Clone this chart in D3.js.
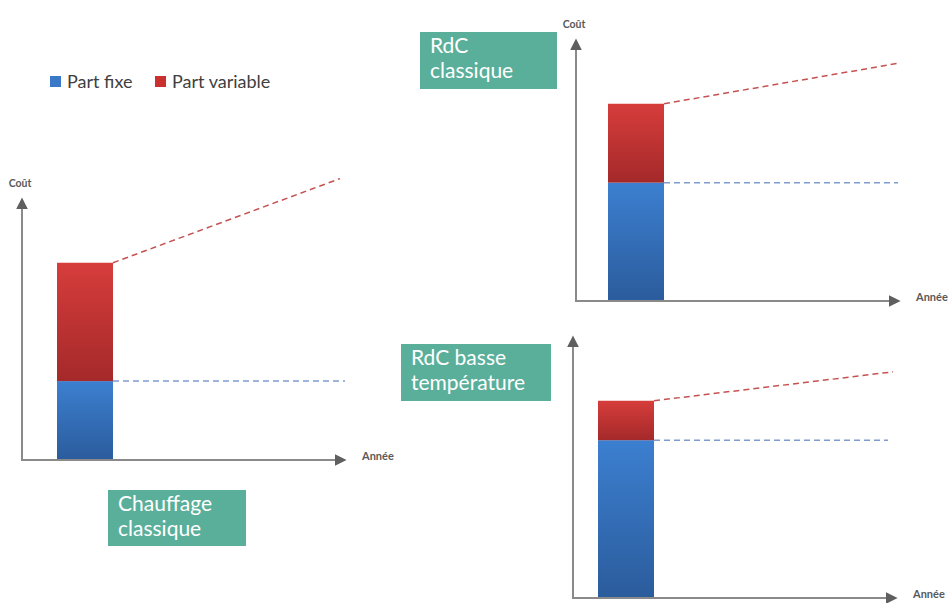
<!DOCTYPE html>
<html>
<head>
<meta charset="utf-8">
<script src="https://cdn.jsdelivr.net/npm/d3@7"></script>
<style>
  body { margin: 0; background: #fff; }
  text { font-family: Lato, "Open Sans", sans-serif; }
</style>
</head>
<body>
<div id="content"></div>
<script>
// Data (cost in arbitrary units, 0..100 on the axis).
var panelNames = ['Chauffage classique', 'RdC classique', 'RdC basse température'];
var labelLines = [['Chauffage', 'classique'], ['RdC', 'classique'], ['RdC basse', 'température']];
var fixedPart = [30, 45, 60];
var variablePart = [45, 30, 15];
var costAtEnd = [107, 90.5, 86];
var legendLabels = ['Part fixe', 'Part variable'];

// Layout of each small chart (pixel origin, bar start, box position).
var layout = [
  {ox: 22, oy: 460, barX: 35, fixEnd: 323, trendEnd: 318, box: [108, 490, 138, 56]},
  {ox: 576, oy: 301, barX: 32, fixEnd: 322, trendEnd: 324, box: [420, 32, 137, 57]},
  {ox: 573, oy: 598, barX: 25, fixEnd: 315, trendEnd: 320, box: [401, 344, 150, 57]}
];

var width = 951, height = 603;
var svg = d3.select('#content').append('svg')
    .attr('width', width).attr('height', height);

// Gradients for the bar parts.
var defs = svg.append('defs');
function gradient(id, top, bottom) {
  var lg = defs.append('linearGradient').attr('id', id)
      .attr('x1', 0).attr('y1', 0).attr('x2', 0).attr('y2', 1);
  lg.append('stop').attr('offset', '0%').attr('stop-color', top);
  lg.append('stop').attr('offset', '100%').attr('stop-color', bottom);
}
gradient('gRed', '#d63d3b', '#a5292a');
gradient('gBlue', '#3c7fd0', '#2b5c9c');

defs.append('marker').attr('id', 'arrow')
    .attr('viewBox', '0 0 10 10').attr('refX', 2).attr('refY', 5)
    .attr('markerWidth', 6).attr('markerHeight', 6)
    .attr('markerUnits', 'strokeWidth')
    .attr('orient', 'auto')
  .append('path').attr('d', 'M0,0L10,5L0,10Z').attr('fill', '#5f5f5f');

// Shared scales: years along x, cost along y.
var x = d3.scaleLinear().domain([0, 10]).range([0, 324]);
var y = d3.scaleLinear().domain([0, 100]).range([0, -263]);
var barW = 56;

// Legend.
var legend = svg.append('g').attr('transform', 'translate(50,74)');
var colors = ['#3a78c8', '#c9302e'];
var offs = [0, 105];
legendLabels.forEach(function(l, i) {
  legend.append('rect').attr('x', offs[i]).attr('y', 2)
      .attr('width', 11).attr('height', 11).attr('fill', colors[i]);
  legend.append('text').attr('x', offs[i] + 17).attr('y', 14)
      .attr('font-size', 18).attr('fill', '#404040').text(l);
});

panelNames.forEach(function(name, i) {
  var L = layout[i];
  var g = svg.append('g').attr('transform', 'translate(' + L.ox + ',' + L.oy + ')');
  var fx = fixedPart[i], vr = variablePart[i];
  var x0 = x.invert(L.barX), x1 = x.invert(L.barX + barW);

  // Bars.
  g.append('rect').attr('x', x(x0)).attr('width', barW)
      .attr('y', y(fx)).attr('height', y(0) - y(fx)).attr('fill', 'url(#gBlue)');
  g.append('rect').attr('x', x(x0)).attr('width', barW)
      .attr('y', y(fx + vr)).attr('height', y(fx) - y(fx + vr)).attr('fill', 'url(#gRed)');

  // Fixed cost level (flat) and total cost trend.
  g.append('line')
      .attr('x1', x(x1)).attr('y1', y(fx))
      .attr('x2', L.fixEnd).attr('y2', y(fx))
      .attr('stroke', '#7f9ccf').attr('stroke-width', 1.5)
      .attr('stroke-dasharray', '6,4');
  g.append('line')
      .attr('x1', x(x1)).attr('y1', y(fx + vr))
      .attr('x2', L.trendEnd).attr('y2', y(costAtEnd[i]))
      .attr('stroke', '#c55252').attr('stroke-width', 1.5)
      .attr('stroke-dasharray', '6,4');

  // Axes with arrows.
  g.append('line').attr('x1', 0).attr('y1', 1).attr('x2', 0).attr('y2', y(100) + 10)
      .attr('stroke', '#8a8a8a').attr('stroke-width', 2)
      .attr('marker-end', 'url(#arrow)');
  g.append('line').attr('x1', -1).attr('y1', 0).attr('x2', x(10) - 9).attr('y2', 0)
      .attr('stroke', '#8a8a8a').attr('stroke-width', 2)
      .attr('marker-end', 'url(#arrow)');

  if (i !== 2) {
    g.append('text').attr('x', -2).attr('y', y(100) - 10)
        .attr('text-anchor', 'middle').attr('font-size', 10.5).attr('font-weight', 'bold')
        .attr('fill', '#595959').text('Coût');
  }
  g.append('text').attr('x', x(10) + 16).attr('y', 0)
      .attr('font-size', 11).attr('font-weight', 'bold')
      .attr('fill', '#595959').text('Année');

  // Label box with a two-line title.
  var b = L.box;
  svg.append('rect').attr('x', b[0]).attr('y', b[1]).attr('width', b[2]).attr('height', b[3])
      .attr('fill', '#5aaf9b');
  var t = svg.append('text').attr('x', b[0] + 10).attr('y', b[1] + 21)
      .attr('font-size', 21).attr('fill', '#fff');
  labelLines[i].forEach(function(s, k) {
    t.append('tspan').attr('x', b[0] + 10).attr('dy', k === 0 ? 0 : 25.3).text(s);
  });
});
</script>
</body>
</html>
